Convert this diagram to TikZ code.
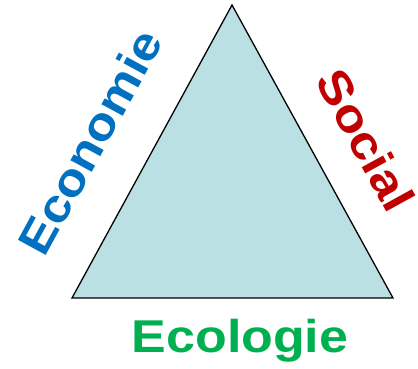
\documentclass[tikz,border=0pt]{standalone}
\usepackage{fontspec}
\setmainfont{Liberation Sans}
\usepackage{tikz}
\usetikzlibrary{positioning}
\definecolor{eco}{HTML}{0070C0}
\definecolor{soc}{HTML}{C00000}
\definecolor{ecol}{HTML}{00B050}
\definecolor{tri}{HTML}{BBE0E3}

\begin{document}
\begin{tikzpicture}[x=1pt,y=-1pt,
    pillar/.style={font=\fontsize{46}{50}\selectfont\bfseries, inner sep=0pt}]

                \useasboundingbox (0,0) rectangle (418,369);

                \coordinate (top) at (232,5);
                \coordinate (left) at (72,298);
                \coordinate (right) at (393,298);
                \filldraw[fill=tri, draw=black, line width=1.3pt] (top) -- (left) -- (right) -- cycle;

                \node[pillar, text=eco, rotate=61.4, xscale=1.13] (economie) at (90,142) {Economie};
                \node[pillar, text=soc, rotate=-61.2, xscale=1.13] (social) at (366,140) {Social};
                \node[pillar, text=ecol, xscale=1.13] (ecologie) at (240,341) {Ecologie};

        \end{tikzpicture}
\end{document}
